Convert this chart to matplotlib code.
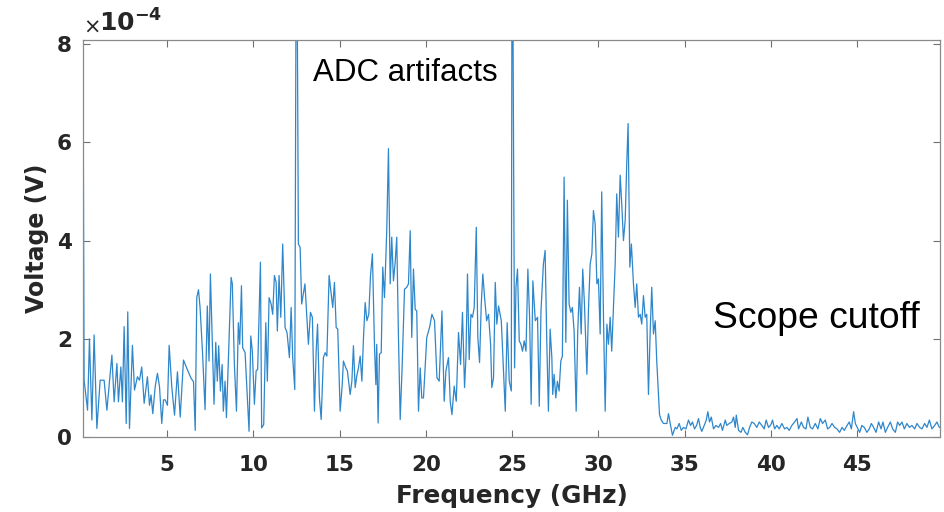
import matplotlib
matplotlib.use('Agg')
import matplotlib.pyplot as plt

# spectrum, voltage in units of 1e-4 V
freq_low = [0.12, 0.19, 0.39, 0.5, 0.64, 0.77, 0.93, 1.12, 1.35, 1.51, 1.8, 1.93, 2.09, 2.18, 2.32, 2.41,
            2.51, 2.63, 2.72, 2.82, 2.99, 3.11, 3.28, 3.4, 3.53, 3.67, 3.86, 3.98, 4.07, 4.17, 4.31, 4.44,
            4.56, 4.69, 4.79, 4.89, 5.02, 5.12, 5.27, 5.43, 5.6, 5.76, 5.95, 6.18, 6.39, 6.53, 6.63, 6.72,
            6.82, 6.91, 7.05, 7.2, 7.33, 7.43, 7.51, 7.62, 7.72, 7.82, 7.91, 7.99, 8.09, 8.19, 8.26, 8.36,
            8.44, 8.55, 8.71, 8.78, 8.9, 9.02, 9.13, 9.21, 9.31, 9.38, 9.52, 9.67, 9.75, 9.85, 9.94, 10.06,
            10.16, 10.25, 10.41, 10.48, 10.6, 10.72, 10.81, 10.91, 11.03, 11.12, 11.22, 11.32, 11.39, 11.49,
            11.59, 11.7, 11.84, 11.95, 12.09, 12.19, 12.28, 12.4, 12.5, 12.61, 12.71, 12.8, 12.99, 13.19,
            13.31, 13.42, 13.54]
volt_low = [8.5, 1.16, 0.55, 2.0, 0.35, 2.08, 0.18, 1.16, 1.16, 0.55, 1.67, 0.72, 1.5, 0.72, 1.43, 0.72,
            2.25, 0.28, 2.55, 0.18, 1.87, 0.96, 1.23, 1.16, 1.43, 0.69, 1.23, 0.65, 0.86, 0.48, 1.03, 1.3,
            1.03, 0.28, 0.76, 0.76, 0.65, 1.87, 1.03, 0.45, 1.33, 0.41, 1.57, 1.37, 1.2, 1.13, 0.14, 2.84,
            3.0, 2.64, 1.75, 0.56, 2.67, 1.55, 3.32, 1.96, 0.67, 1.93, 1.14, 1.86, 0.94, 1.48, 0.53, 1.14,
            0.4, 1.55, 3.25, 3.12, 1.48, 0.53, 2.33, 1.89, 3.08, 1.82, 1.72, 0.67, 0.12, 2.06, 1.75, 0.67,
            1.35, 1.38, 3.56, 0.19, 0.26, 2.33, 1.14, 2.84, 2.71, 2.5, 3.29, 3.15, 2.16, 3.29,
            2.44, 3.93, 2.23, 2.13, 1.62, 2.64, 1.62, 0.97, 12.0, 3.93, 3.86, 2.71, 3.12, 1.89,
            2.54, 2.44, 0.53]

freq_mid = [13.64, 13.72, 13.83, 13.93, 14.06, 14.16, 14.26, 14.39, 14.51, 14.6, 14.7, 14.8, 14.89, 15.03,
            15.15, 15.22, 15.36, 15.45, 15.61, 15.71, 15.8, 15.9, 15.99, 16.09, 16.19, 16.29, 16.38, 16.48,
            16.58, 16.69, 16.79, 16.9, 17.02, 17.1, 17.15, 17.23, 17.31, 17.41, 17.5, 17.6, 17.73, 17.83,
            17.93, 18.02, 18.12, 18.22, 18.31, 18.41, 18.51, 18.62, 18.76, 18.89, 18.99, 19.09, 19.18, 19.28,
            19.38, 19.47, 19.57, 19.67, 19.76, 19.86, 20.05, 20.21, 20.35, 20.5, 20.64, 20.77, 20.93, 21.06,
            21.16, 21.31, 21.41, 21.51, 21.64, 21.76, 21.89, 22.01, 22.12, 22.24, 22.32, 22.41, 22.51, 22.61,
            22.7, 22.8, 22.92, 23.01, 23.11, 23.21, 23.3, 23.4, 23.52, 23.63, 23.75, 23.82, 23.92, 24.02,
            24.11, 24.21, 24.37, 24.5, 24.6, 24.71, 24.83, 24.95, 25.0, 25.14, 25.22, 25.31, 25.41, 25.51,
            25.6, 25.7, 25.8, 25.91, 26.01, 26.1, 26.2, 26.34, 26.47, 26.57, 26.67]
volt_mid = [1.75, 2.3, 0.8, 0.36, 1.62, 1.72, 1.65, 3.29, 2.91, 2.64, 3.15, 2.23, 2.2, 0.53,
            1.07, 1.55, 1.41, 1.35, 0.87, 1.14, 1.86, 1.01, 1.24, 1.41, 1.65, 1.14, 2.0, 2.74,
            2.37, 2.5, 3.29, 3.73, 1.86, 1.07, 1.89, 0.29, 1.69, 1.72, 3.46, 2.84, 4.2, 5.87,
            3.12, 4.07, 3.18, 3.56, 4.07, 2.03, 0.36, 1.41, 3.01, 3.05, 3.12, 4.2, 2.03, 3.42,
            2.6, 2.57, 0.53, 1.41, 0.8, 0.8, 2.03, 2.23, 2.5, 2.37, 1.21, 1.14, 2.57, 0.73,
            1.35, 1.62, 0.73, 0.46, 1.04, 0.73, 2.13, 1.48, 2.54, 1.01, 1.62, 3.32, 1.58, 2.5,
            2.44, 2.64, 4.27, 2.03, 1.52, 2.71, 3.32, 2.84, 2.37, 2.5, 1.89, 1.01, 1.21, 3.15,
            2.3, 2.67, 2.37, 1.35, 0.53, 2.33, 1.14, 0.94, 12.0, 1.41, 3.05, 3.42, 1.96, 1.89,
            1.75, 1.96, 1.75, 3.42, 2.44, 0.67, 3.18, 2.37, 2.44, 0.63, 2.57]

freq_high = [26.81, 26.91, 27.01, 27.1, 27.2, 27.3, 27.35, 27.43, 27.53, 27.62, 27.72, 27.82, 27.91, 28.01,
             28.11, 28.2, 28.3, 28.4, 28.49, 28.59, 28.71, 28.8, 28.9, 29.0, 29.09, 29.19, 29.33, 29.42,
             29.52, 29.62, 29.71, 29.81, 29.91, 30.0, 30.1, 30.19, 30.29, 30.39, 30.49, 30.58, 30.68, 30.77,
             30.87, 30.97, 31.06, 31.16, 31.26, 31.35, 31.45, 31.55, 31.64, 31.72, 31.82, 31.91, 32.03, 32.13,
             32.22, 32.32, 32.42, 32.51, 32.61, 32.71, 32.8, 32.9, 33.0, 33.09, 33.19, 33.29, 33.38, 33.54]
volt_high = [3.52, 3.8, 1.89, 0.53, 2.2, 1.62, 0.87, 1.28, 0.8, 1.14, 0.94, 1.55, 1.65, 5.29,
             1.93, 4.82, 2.71, 2.54, 2.64, 2.16, 0.53, 2.16, 3.05, 2.1, 3.42, 2.71, 1.28, 2.57,
             3.52, 3.73, 4.61, 4.34, 3.12, 3.22, 2.1, 4.99, 2.5, 0.53, 2.3, 1.89, 2.44, 1.75,
             2.64, 3.52, 4.95, 4.07, 5.33, 4.75, 4.0, 4.41, 5.56, 6.38, 3.46, 3.93, 3.12, 2.64,
             3.12, 2.44, 2.5, 2.3, 2.88, 2.44, 2.5, 0.87, 2.16, 3.05, 2.1, 2.37, 1.55, 0.46]

# noise floor above the scope cutoff
freq_floor = [33.64, 33.77, 33.97, 34.06, 34.16, 34.29, 34.45, 34.55, 34.68, 34.8, 34.93, 35.07, 35.22,
              35.34, 35.45, 35.57, 35.69, 35.8, 35.9, 35.99, 36.13, 36.25, 36.34, 36.44, 36.54, 36.67,
              36.81, 36.96, 37.08, 37.19, 37.35, 37.44, 37.58, 37.73, 37.83, 37.93, 37.99, 38.12, 38.26,
              38.37, 38.51, 38.64, 38.76, 38.89, 39.03, 39.18, 39.32, 39.47, 39.61, 39.72, 39.86, 39.99,
              40.09, 40.21, 40.34, 40.48, 40.63, 40.79, 40.92, 41.06, 41.21, 41.37, 41.51, 41.6, 41.76,
              41.89, 42.03, 42.14, 42.28, 42.41, 42.57, 42.72, 42.86, 42.99, 43.15, 43.28, 43.4, 43.54,
              43.69, 43.83, 43.98, 44.12, 44.25, 44.41, 44.54, 44.66, 44.79, 44.89, 45.0, 45.14, 45.27,
              45.41, 45.56, 45.7, 45.82, 45.95, 46.09, 46.24, 46.38, 46.49, 46.63, 46.76, 46.92, 47.05,
              47.21, 47.34, 47.46, 47.59, 47.73, 47.88, 48.02, 48.17, 48.33, 48.46, 48.62, 48.75, 48.91,
              49.04, 49.18, 49.33, 49.49, 49.62, 49.76]
volt_floor = [0.35, 0.28, 0.28, 0.48, 0.28, 0.04, 0.2, 0.17, 0.28, 0.14, 0.2, 0.17, 0.35,
              0.24, 0.31, 0.17, 0.24, 0.38, 0.2, 0.12, 0.24, 0.35, 0.52, 0.31, 0.41, 0.17,
              0.24, 0.2, 0.28, 0.14, 0.35, 0.24, 0.28, 0.31, 0.41, 0.2, 0.45, 0.14, 0.1,
              0.2, 0.1, 0.05, 0.2, 0.31, 0.28, 0.2, 0.31, 0.24, 0.17, 0.35, 0.2, 0.25,
              0.35, 0.17, 0.24, 0.17, 0.28, 0.17, 0.2, 0.14, 0.24, 0.31, 0.38, 0.17, 0.31,
              0.2, 0.17, 0.41, 0.2, 0.17, 0.28, 0.17, 0.38, 0.28, 0.35, 0.17, 0.2, 0.28,
              0.2, 0.17, 0.1, 0.2, 0.14, 0.24, 0.31, 0.17, 0.52, 0.28, 0.2, 0.1, 0.24,
              0.2, 0.1, 0.17, 0.28, 0.2, 0.1, 0.31, 0.17, 0.31, 0.1, 0.2, 0.31, 0.17,
              0.1, 0.31, 0.24, 0.31, 0.17, 0.28, 0.2, 0.24, 0.17, 0.28, 0.2, 0.17, 0.28,
              0.2, 0.35, 0.17, 0.24, 0.31, 0.2]

freq = freq_low + freq_mid + freq_high + freq_floor
volt = volt_low + volt_mid + volt_high + volt_floor

x_ticks = [5, 10, 15, 20, 25, 30, 35, 40, 45]
y_ticks = [0, 2, 4, 6, 8]

plt.rcParams['mathtext.fontset'] = 'dejavusans'
dark = '#262626'

fig = plt.figure(figsize=(9.44, 5.12), dpi=100)
ax = fig.add_axes([0.088, 0.146, 0.908, 0.776])

ax.plot(freq, volt, color='#2E86CB', linewidth=0.9)

ax.set_xlim(0.13, 49.81)
ax.set_ylim(0, 8.08)
ax.set_xticks(x_ticks)
ax.set_yticks(y_ticks)
ax.tick_params(direction='in', length=5, width=0.8, color='#707070',
               top=True, right=True, labelsize=15.5, labelcolor=dark)
ax.tick_params(axis='x', pad=13)
ax.tick_params(axis='y', pad=8)
for lbl in ax.get_xticklabels() + ax.get_yticklabels():
    lbl.set_fontweight('bold')
for sp in ax.spines.values():
    sp.set_color('#8a8a8a')
    sp.set_linewidth(0.9)

ax.set_xlabel('Frequency (GHz)', fontsize=17.8, fontweight='bold', color=dark)
ax.set_ylabel('Voltage (V)', fontsize=17, fontweight='bold', color=dark)
ax.xaxis.set_label_coords(0.5, -0.117)
ax.yaxis.set_label_coords(-0.040, 0.5)

ax.text(0.0, 1.008, r'$\times$', transform=ax.transAxes, fontsize=15, color=dark,
        ha='left', va='bottom')
ax.text(0.019, 1.008, r'$\mathbf{10^{-4}}$', transform=ax.transAxes, fontsize=18, color=dark,
        ha='left', va='bottom')

ax.text(13.46, 7.41, 'ADC artifacts', fontsize=22.5, family='Liberation Sans', color='black',
        ha='left', va='center')
ax.text(36.65, 2.42, 'Scope cutoff', fontsize=26.8, family='Liberation Sans', color='black',
        ha='left', va='center')

fig.savefig('out.png', dpi=100)
